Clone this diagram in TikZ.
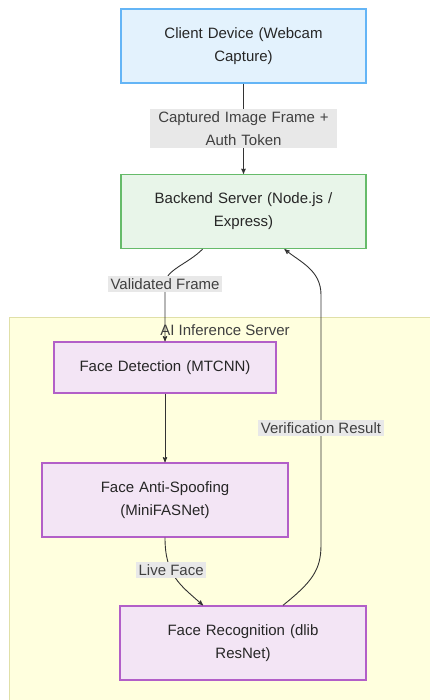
\documentclass[tikz,border=0pt]{standalone}
\usepackage{fontspec}
\setmainfont{Liberation Sans}
\usetikzlibrary{arrows,shapes,positioning}

\definecolor{clientfill}{HTML}{E3F2FD}
\definecolor{clientdraw}{HTML}{64B5F6}
\definecolor{backfill}{HTML}{E8F5E9}
\definecolor{backdraw}{HTML}{66BB6A}
\definecolor{aifill}{HTML}{F3E5F5}
\definecolor{aidraw}{HTML}{B25FC8}
\definecolor{clusterfill}{HTML}{FFFFDE}
\definecolor{clusterdraw}{HTML}{E0E0A8}
\definecolor{labelfill}{HTML}{E8E8E8}
\definecolor{linecol}{HTML}{333333}

\begin{document}
\begin{tikzpicture}[x=1pt,y=1pt,>=stealth',semithick,
                    font=\fontsize{15}{23}\selectfont]
  \tikzstyle{box}=[draw,line width=1.4pt,align=center,text=black!85,
                   minimum height=74pt,text width=236pt]
  \tikzstyle{client}=[box,fill=clientfill,draw=clientdraw,minimum width=245pt]
  \tikzstyle{backend}=[box,fill=backfill,draw=backdraw,minimum width=245pt]
  \tikzstyle{ai}=[box,fill=aifill,draw=aidraw,minimum width=246pt]
  \tikzstyle{elabel}=[fill=labelfill,align=center,text=black!75,inner sep=2.5pt]
  \tikzstyle{flow}=[->,draw=linecol,line width=0.9pt]

  \useasboundingbox (0,0) rectangle (429,700);
  \fill[white] (0,0) rectangle (429,700);

  % inference server cluster
  \draw[fill=clusterfill,draw=clusterdraw,line width=1pt] (9,382) rectangle (440,-10);
  \node[text=black!75] (title) at (225,370) {AI Inference Server};

  \node[client]  (client)  at (243.5,654)   {Client Device (Webcam\\Capture)};
  \node[backend] (backend) at (243.5,488.5) {Backend Server (Node.js /\\Express)};
  \node[ai,minimum width=222pt,minimum height=51pt,text width=215pt]
                 (detect)  at (165,332.5)   {Face Detection (MTCNN)};
  \node[ai]      (spoof)   at (165,200)     {Face Anti-Spoofing\\(MiniFASNet)};
  \node[ai]      (recog)   at (243,57)      {Face Recognition (dlib\\ResNet)};

  \draw[flow] (client) -- node[elabel,text width=182pt] {Captured Image Frame +\\Auth Token} (backend);

  \draw[flow] ([xshift=-41pt]backend.south) .. controls (188,436) and (165,430) .. (165,416)
        node[elabel] {Validated Frame} -- (detect.north);

  \draw[flow] (detect) -- (spoof);

  \draw[flow] (spoof.south) .. controls (165,125) and (180,115) .. ([xshift=-40pt]recog.north)
        node[elabel,pos=0.38] {Live Face};

  \draw[flow] ([xshift=40pt]recog.north) .. controls (312,118) and (321,130) .. (321,155)
        -- (321,272) node[elabel] {Verification Result} -- (321,405)
        .. controls (321,430) and (300,438) .. ([xshift=41pt]backend.south);
\end{tikzpicture}
\end{document}
